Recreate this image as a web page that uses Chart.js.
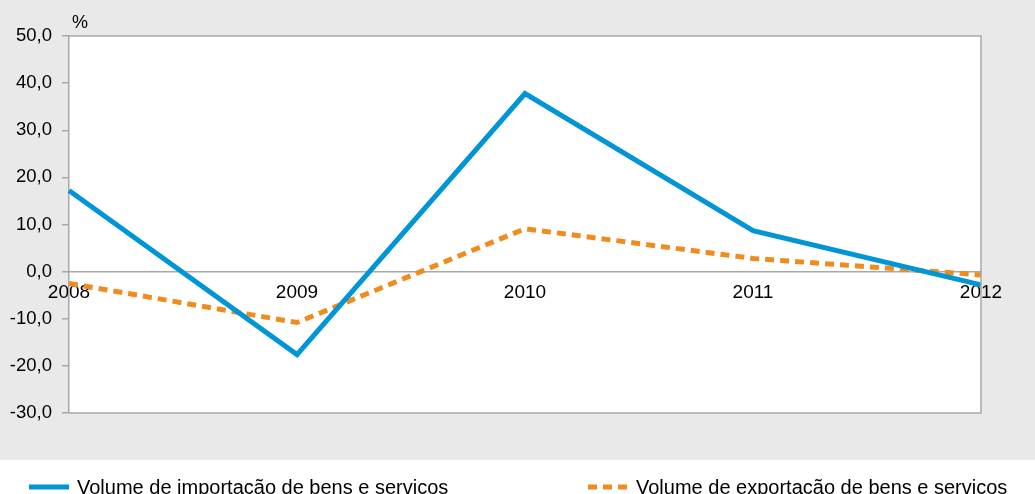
<!DOCTYPE html>
<html><head><meta charset="utf-8">
<script src="https://cdn.jsdelivr.net/npm/chart.js@4/dist/chart.umd.min.js"></script>
<style>html,body{margin:0;padding:0;background:#fff}#wrap{width:1035px;height:494px}</style>
</head><body><div id="wrap"><canvas id="c" width="1035" height="494"></canvas></div>
<script>
const categories = ['2008','2009','2010','2011','2012'];
const importacao = [17.2, -17.6, 37.8, 8.7, -2.8];
const exportacao = [-2.5, -10.8, 9.1, 2.8, -0.7];
const seriesNames = ['Volume de importacão de bens e servicos','Volume de exportacão de bens e servicos'];
const yTicks = [50,40,30,20,10,0,-10,-20,-30];
const unitLabel = '%';

const FONT = '"Liberation Sans", Arial, sans-serif';
const BLUE = '#0096d6';
const ORANGE = '#f08c1e';
const AXIS = '#a8a8a8';

const decor = {
  id:'decor',
  beforeDraw(chart){
    const ctx = chart.ctx, a = chart.chartArea;
    ctx.save();
    ctx.fillStyle = '#ffffff';
    ctx.fillRect(0,0,chart.width,chart.height);
    ctx.fillStyle = '#e9e9e9';
    ctx.fillRect(0,0,chart.width,460);
    ctx.fillStyle = '#ffffff';
    ctx.fillRect(a.left,a.top,a.right-a.left,a.bottom-a.top);
    ctx.restore();
  },
  afterDraw(chart){
    const ctx = chart.ctx, a = chart.chartArea;
    ctx.save();
    ctx.strokeStyle = AXIS; ctx.lineWidth = 1.5;
    ctx.beginPath();
    ctx.moveTo(a.left, a.top); ctx.lineTo(a.right, a.top);
    ctx.lineTo(a.right, a.bottom); ctx.lineTo(a.left, a.bottom);
    ctx.stroke();
    ctx.fillStyle = '#000';
    ctx.font = '18px ' + FONT;
    ctx.textBaseline = 'alphabetic';
    ctx.fillText(unitLabel, a.left + 3, 28);
    // legend
    const ds = chart.data.datasets;
    const items = [{x:29, ds:ds[0]},{x:588, ds:ds[1]}];
    ctx.font = '20px ' + FONT;
    items.forEach(it=>{
      ctx.strokeStyle = it.ds.borderColor;
      ctx.lineWidth = 5;
      ctx.setLineDash(it.ds.borderDash || []);
      ctx.beginPath(); ctx.moveTo(it.x, 487); ctx.lineTo(it.x+40, 487); ctx.stroke();
      ctx.setLineDash([]);
      ctx.fillStyle = '#000';
      ctx.fillText(it.ds.label, it.x + 48, 494);
    });
    ctx.restore();
  }
};

new Chart(document.getElementById('c'), {
  type:'line',
  data:{
    labels: categories,
    datasets:[
      {label: seriesNames[0], data: importacao, borderColor: BLUE, borderWidth:5, pointRadius:0, fill:false, tension:0},
      {label: seriesNames[1], data: exportacao, borderColor: ORANGE, borderWidth:5, borderDash:[9,6], pointRadius:0, fill:false, tension:0}
    ]
  },
  options:{
    responsive:false, animation:false,
    layout:{padding:{left:0, right:54, top:36, bottom:81}},
    plugins:{legend:{display:false}, tooltip:{enabled:false}},
    scales:{
      x:{
        type:'category', offset:false, position:{y:0},
        grid:{display:false, drawTicks:false},
        border:{display:true, color:AXIS, width:1.5},
        ticks:{color:'#000', font:{family:FONT, size:19}, padding:10, maxRotation:0, autoSkip:false}
      },
      y:{
        min:-30, max:50,
        afterBuildTicks(scale){ scale.ticks = yTicks.map(v=>({value:v})); },
        afterFit(scale){ scale.width = 69; },
        grid:{drawOnChartArea:false, drawTicks:true, tickLength:7, tickColor:AXIS, lineWidth:1.5},
        border:{display:true, color:AXIS, width:1.5},
        ticks:{color:'#000', font:{family:FONT, size:18.5}, padding:10,
          callback:(v)=> v.toFixed(1).replace('.',',')}
      }
    }
  },
  plugins:[decor]
});
</script></body></html>
